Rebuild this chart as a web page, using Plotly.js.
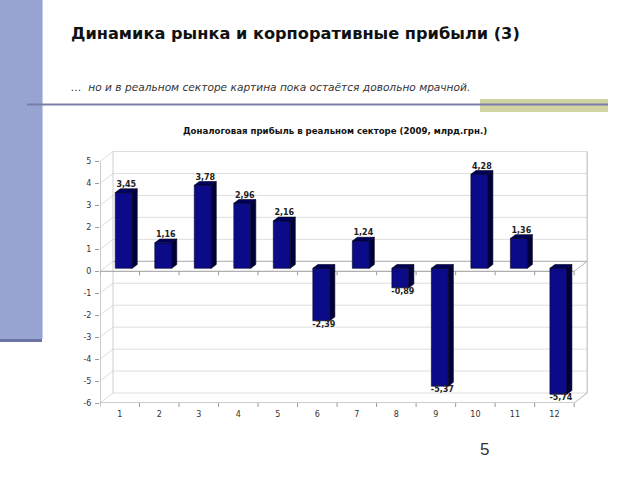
<!DOCTYPE html>
<html><head><meta charset="utf-8">
<script src="https://cdn.plot.ly/plotly-3.0.1.min.js"></script>
<style>html,body{margin:0;padding:0;background:#fff}#chart{width:640px;height:480px}</style>
</head><body><div id="chart"></div>
<script>
// ---- data ----
const categories = ['1','2','3','4','5','6','7','8','9','10','11','12'];
const values = [3.45, 1.16, 3.78, 2.96, 2.16, -2.39, 1.24, -0.89, -5.37, 4.28, 1.36, -5.74];
const yTickVals = [-6,-5,-4,-3,-2,-1,0,1,2,3,4,5];
const yTickText = ['-6','-5','-4','-3','-2','-1','0','1','2','3','4','5'];
const slideTitle = 'Динамика рынка и корпоративные прибыли (3)';
const slideSubtitle = '…  но и в реальном секторе картина пока остаётся довольно мрачной.';
const chartTitle = 'Доналоговая прибыль в реальном секторе (2009, млрд.грн.)';
const pageNumber = '5';

// ---- geometry ----
const L = 100, R = 588, T = 151, B = 403;
const xr = [0.5, 12.85], yr = [-6, 5.48];
const pxX = (R - L) / (xr[1] - xr[0]);
const pxY = (B - T) / (yr[1] - yr[0]);
const DX = 13 / pxX, DY = 10 / pxY;          // wall depth
const BX = 4 / pxX, BY = 3 / pxY;            // bar front offset
const SX = 5 / pxX, SY = 3.8 / pxY;          // bar depth
const HW = 8.5 / pxX;                        // bar half width
const px = x => (x - L) / (R - L);
const py = y => (B - y) / (B - T);
const xs = categories.map((c, i) => i + 1);
const fmt = v => v.toFixed(2).replace('.', ',');

// ---- 3D faces ----
const sideX = [], sideY = [], topX = [], topY = [];
xs.forEach((x, i) => {
  const v = values[i];
  const xl = x + BX - HW, xrr = x + BX + HW;
  sideX.push(xrr, xrr + SX, xrr + SX, xrr, xrr, null);
  sideY.push(BY, BY + SY, v + BY + SY, v + BY, BY, null);
  const t = Math.max(v, 0) + BY;
  topX.push(xl, xrr, xrr + SX, xl + SX, xl, null);
  topY.push(t, t, t + SY, t + SY, t, null);
});

const traces = [
  {type: 'bar', x: xs.map(x => x + BX), y: values, base: BY, width: 2 * HW,
   marker: {color: '#0b0b8a', line: {color: '#000022', width: 0.6}}, hoverinfo: 'skip'},
  {type: 'scatter', mode: 'lines', x: sideX, y: sideY, fill: 'toself', fillcolor: '#00003c',
   line: {color: '#000015', width: 0.6}, hoverinfo: 'skip'},
  {type: 'scatter', mode: 'lines', x: topX, y: topY, fill: 'toself', fillcolor: '#00005a',
   line: {color: '#000015', width: 0.6}, hoverinfo: 'skip'},
  {type: 'scatter', mode: 'text',
   x: xs.map(x => x + BX + SX / 2),
   y: values.map(v => v >= 0 ? v + BY + SY : v + BY),
   text: values.map(fmt),
   textposition: values.map(v => v >= 0 ? 'top center' : 'bottom center'),
   textfont: {family: 'DejaVu Sans', size: 8, color: '#222', weight: 'bold'},
   cliponaxis: false, hoverinfo: 'skip'}
];

// ---- walls & grid ----
const shapes = [];
const ln = (x0, y0, x1, y1, color, w, extra) => Object.assign({type: 'line', xref: 'x', yref: 'y',
  x0, y0, x1, y1, line: {color, width: w || 1}, layer: 'below'}, extra || {});
yTickVals.forEach(v => {
  shapes.push(ln(0.5 + DX, v + DY, 12.5 + DX, v + DY, v === 0 ? '#a8a8a8' : '#dedede', 1));
  shapes.push(ln(0.5, v, 0.5 + DX, v + DY, '#dedede', 1));
});
shapes.push(ln(0.5 + DX, -6 + DY, 0.5 + DX, 5 + DY, '#cfcfcf', 1));
shapes.push(ln(12.5 + DX, -6 + DY, 12.5 + DX, 5 + DY, '#b5b5b5', 1));
shapes.push(ln(12.5, -6, 12.5 + DX, -6 + DY, '#b5b5b5', 1));
shapes.push(ln(12.5, 0, 12.5 + DX, DY, '#b5b5b5', 1));
// front axes
shapes.push(ln(0.5, -6, 0.5, 5, '#9a9a9a', 1, {layer: 'above'}));
shapes.push(ln(0.5, -6, 12.5, -6, '#9a9a9a', 1, {layer: 'above'}));
shapes.push(ln(0.5, 0, 12.5, 0, '#9a9a9a', 1, {layer: 'below'}));
for (let k = 0; k <= categories.length; k++) {
  const bx = k + 0.5;
  shapes.push(ln(bx, 0, bx, -4 / pxY, '#9a9a9a', 1, {layer: 'above'}));
  shapes.push({type: 'line', xref: 'x', yref: 'paper', x0: bx, x1: bx, y0: 0, y1: -4 / (B - T),
    line: {color: '#9a9a9a', width: 1}});
}

// ---- slide decoration ----
const rectP = (x0, y0, x1, y1, fill) => ({type: 'rect', xref: 'paper', yref: 'paper',
  x0: px(x0), x1: px(x1), y0: py(y0), y1: py(y1), fillcolor: fill, line: {width: 0}, layer: 'below'});
shapes.push(rectP(0, 0, 42, 339, '#97a4d1'));
shapes.push(rectP(0, 339, 42, 342, '#6c73a6'));
shapes.push(rectP(42, 0, 43, 339, '#c5cdea'));
shapes.push(rectP(480, 99, 608, 112, '#d0d4a3'));
shapes.push({type: 'line', xref: 'paper', yref: 'paper', x0: px(27), x1: px(608), y0: py(104.5), y1: py(104.5),
  line: {color: '#7c7ca8', width: 2}});

const annotations = [
  {xref: 'paper', yref: 'paper', x: px(69), y: py(33), xanchor: 'left', yanchor: 'middle', showarrow: false,
   text: '<b>' + slideTitle + '</b>', font: {family: 'DejaVu Sans', size: 16.2, color: '#111'}},
  {xref: 'paper', yref: 'paper', x: px(69), y: py(87), xanchor: 'left', yanchor: 'middle', showarrow: false,
   text: '<i>' + slideSubtitle + '</i>', font: {family: 'DejaVu Sans', size: 10.6, color: '#333'}},
  {xref: 'paper', yref: 'paper', x: px(484), y: py(449), xanchor: 'center', yanchor: 'middle', showarrow: false,
   text: pageNumber, font: {family: 'Liberation Sans', size: 17, color: '#333'}}
];

const layout = {
  width: 640, height: 480,
  margin: {l: L, r: 640 - R, t: T, b: 480 - B, pad: 0},
  paper_bgcolor: '#ffffff', plot_bgcolor: '#ffffff',
  showlegend: false,
  title: {text: '<b>' + chartTitle + '</b>', x: 335 / 640, xanchor: 'center', xref: 'container',
          y: 1 - 131 / 480, yanchor: 'middle', yref: 'container',
          font: {family: 'DejaVu Sans', size: 8.6, color: '#111'}},
  xaxis: {range: xr, tickvals: xs, ticktext: categories, ticks: '', showgrid: false, zeroline: false,
          showline: false, tickfont: {family: 'DejaVu Sans', size: 8, color: '#333'}, ticklabelstandoff: 5,
          fixedrange: true},
  yaxis: {range: yr, tickvals: yTickVals, ticktext: yTickText, ticks: 'outside', ticklen: 4, tickcolor: '#9a9a9a',
          showgrid: false, zeroline: false, showline: false, ticklabelstandoff: 2,
          tickfont: {family: 'DejaVu Sans', size: 8, color: '#333'}, fixedrange: true},
  shapes, annotations
};
Plotly.newPlot('chart', traces, layout, {staticPlot: true, displayModeBar: false});
</script>
</body></html>
